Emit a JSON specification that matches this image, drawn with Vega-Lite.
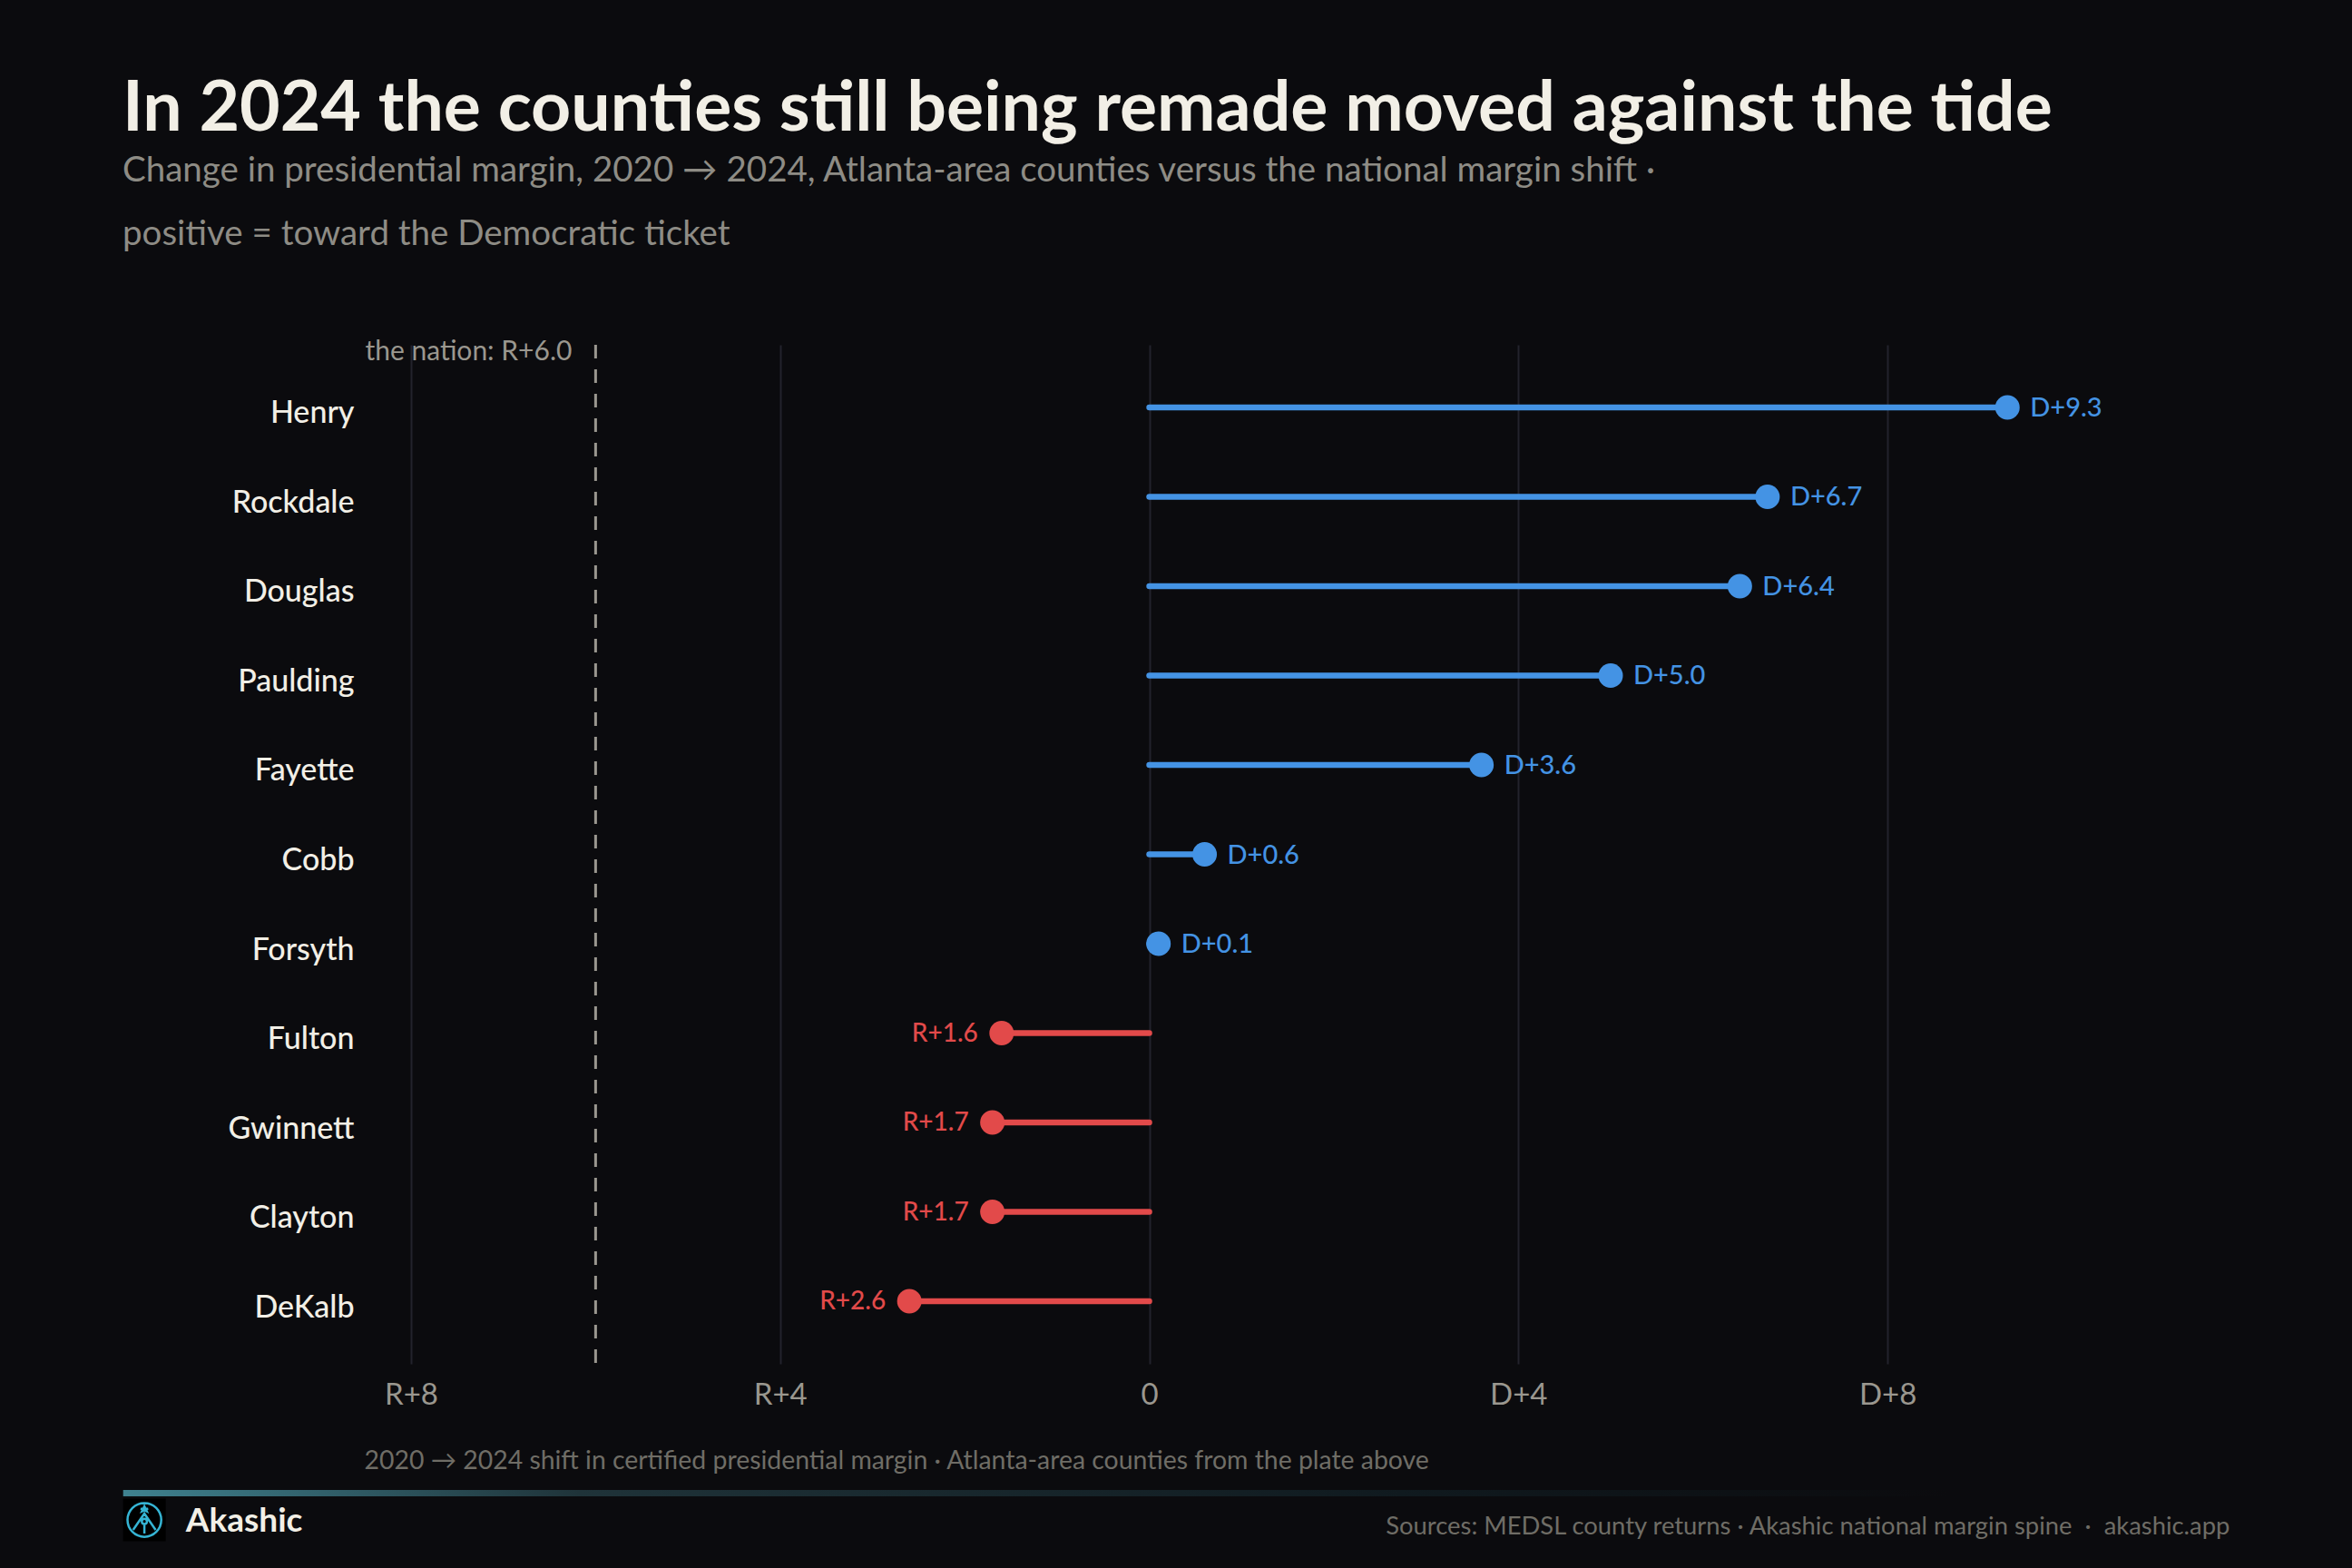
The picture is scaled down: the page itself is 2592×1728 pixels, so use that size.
{
"$schema":"https://vega.github.io/schema/vega-lite/v6.json",
"autosize":{"type":"none"},
"padding":{"left":453,"top":380,"right":156,"bottom":225},
"width":1983,"height":1123,
"background":"#0b0b0e",
"config":{"font":"Lato","view":{"stroke":null}},
"title":{"text":"In 2024 the counties still being remade moved against the tide","subtitle":["Change in presidential margin, 2020 → 2024, Atlanta-area counties versus the national margin shift ·","positive = toward the Democratic ticket"],"anchor":"start","frame":"group","dx":-318,"offset":95,"font":"Lato","fontSize":77,"fontWeight":700,"color":"#f2efe6","subtitleFont":"Lato","subtitleFontSize":38.5,"subtitleColor":"#8e8c85","subtitlePadding":10,"subtitleLineHeight":70},
"datasets":{"counties":[
{"county":"Henry","base":0,"shift":9.3,"party":"D","label":"D+9.3"},
{"county":"Rockdale","base":0,"shift":6.7,"party":"D","label":"D+6.7"},
{"county":"Douglas","base":0,"shift":6.4,"party":"D","label":"D+6.4"},
{"county":"Paulding","base":0,"shift":5.0,"party":"D","label":"D+5.0"},
{"county":"Fayette","base":0,"shift":3.6,"party":"D","label":"D+3.6"},
{"county":"Cobb","base":0,"shift":0.6,"party":"D","label":"D+0.6"},
{"county":"Forsyth","base":0,"shift":0.1,"party":"D","label":"D+0.1"},
{"county":"Fulton","base":0,"shift":-1.6,"party":"R","label":"R+1.6"},
{"county":"Gwinnett","base":0,"shift":-1.7,"party":"R","label":"R+1.7"},
{"county":"Clayton","base":0,"shift":-1.7,"party":"R","label":"R+1.7"},
{"county":"DeKalb","base":0,"shift":-2.6,"party":"R","label":"R+2.6"}]},
"resolve":{"scale":{"y":"independent"}},
"layer":[
{"data":{"name":"counties"},"mark":{"type":"point","opacity":0,"size":1},
 "encoding":{
  "x":{"field":"shift","type":"quantitative","scale":{"domain":[-8,11.5],"nice":false,"zero":false},
   "axis":{"values":[-8,-4,0,4,8],"labelExpr":"datum.value<0?'R+'+abs(datum.value):datum.value>0?'D+'+datum.value:'0'","grid":true,"gridColor":"#23232c","gridWidth":2,"domain":false,"ticks":false,"labelFlush":false,"labelFont":"Lato","labelFontSize":33,"labelColor":"#9a978f","labelPadding":18,"title":"2020 → 2024 shift in certified presidential margin · Atlanta-area counties from the plate above","titleFont":"Lato","titleFontSize":28.4,"titleFontWeight":400,"titleColor":"#6f6d66","titleAnchor":"start","titleAlign":"left","titleX":-52,"titleY":93}},
  "y":{"field":"county","type":"nominal","sort":null,"scale":{"type":"point","padding":0.7},
   "axis":{"orient":"left","domain":false,"ticks":false,"grid":false,"title":null,"labelFont":"Lato","labelFontSize":34,"labelFontWeight":500,"labelColor":"#f2efe6","labelPadding":63,"labelOffset":7}}}},
{"data":{"values":[{"nation":-6}]},"mark":{"type":"rule","stroke":"#9a978f","strokeWidth":3,"strokeDash":[15,12]},
 "encoding":{"x":{"field":"nation","type":"quantitative"}}},
{"data":{"values":[{"note":"the nation: R+6.0"}]},"mark":{"type":"text","align":"right","baseline":"middle","dx":-26,"fontSize":30,"color":"#9a978f"},
 "encoding":{"x":{"datum":-6,"type":"quantitative"},"y":{"datum":0.9925,"type":"quantitative","scale":{"domain":[0,1]},"axis":null},"text":{"field":"note"}}},
{"data":{"name":"counties"},"mark":{"type":"rule","strokeWidth":6.5,"strokeCap":"round"},
 "encoding":{"x":{"field":"base","type":"quantitative"},"x2":{"field":"shift"},
  "y":{"field":"county","type":"nominal","sort":null,"scale":{"type":"point","padding":0.7},"axis":null},
  "color":{"field":"party","type":"nominal","scale":{"domain":["D","R"],"range":["#4493e4","#e24a4a"]},"legend":null}}},
{"data":{"name":"counties"},"mark":{"type":"point","filled":true,"shape":"circle","size":729,"opacity":1},
 "encoding":{"x":{"field":"shift","type":"quantitative"},
  "y":{"field":"county","type":"nominal","sort":null,"scale":{"type":"point","padding":0.7},"axis":null},
  "color":{"field":"party","type":"nominal","legend":null}}},
{"data":{"name":"counties"},"transform":[{"filter":"datum.party==='D'"}],"mark":{"type":"text","align":"left","baseline":"middle","dx":25,"dy":1,"fontSize":29,"fontWeight":500},
 "encoding":{"x":{"field":"shift","type":"quantitative"},
  "y":{"field":"county","type":"nominal","scale":{"type":"point","padding":0.7,"domain":["Henry","Rockdale","Douglas","Paulding","Fayette","Cobb","Forsyth","Fulton","Gwinnett","Clayton","DeKalb"]},"axis":null},
  "color":{"field":"party","type":"nominal","legend":null},"text":{"field":"label"}}},
{"data":{"name":"counties"},"transform":[{"filter":"datum.party==='R'"}],"mark":{"type":"text","align":"right","baseline":"middle","dx":-26,"dy":1,"fontSize":28,"fontWeight":500},
 "encoding":{"x":{"field":"shift","type":"quantitative"},
  "y":{"field":"county","type":"nominal","scale":{"type":"point","padding":0.7,"domain":["Henry","Rockdale","Douglas","Paulding","Fayette","Cobb","Forsyth","Fulton","Gwinnett","Clayton","DeKalb"]},"axis":null},
  "color":{"field":"party","type":"nominal","legend":null},"text":{"field":"label"}}},
{"data":{"values":[{"band":"footer rule"}]},"mark":{"type":"rect","color":{"gradient":"linear","x1":0,"x2":1,"y1":0,"y2":0,"stops":[{"offset":0,"color":"#3f8290"},{"offset":0.25,"color":"#1f3339"},{"offset":0.7,"color":"#101a1f"},{"offset":1,"color":"#0b0b0e"}]}},
 "encoding":{"x":{"datum":-11.12,"type":"quantitative","scale":{"domain":[-8,11.5],"nice":false,"zero":false}},"x2":{"datum":8.66},
  "y":{"datum":-0.1238,"type":"quantitative","scale":{"domain":[0,1]},"axis":null},"y2":{"datum":-0.13}}},
{"data":{"values":[{"logo":"plate"}]},"mark":{"type":"point","filled":true,"shape":"square","size":2209,"color":"#000000","opacity":1},
 "encoding":{"x":{"datum":-10.89,"type":"quantitative"},"y":{"datum":-0.1532,"type":"quantitative","scale":{"domain":[0,1]},"axis":null}}},
{"data":{"values":[{"logo":"ring"}]},"mark":{"type":"point","filled":false,"shape":"M-0.93,0A0.93,0.93,0,1,1,0.93,0A0.93,0.93,0,1,1,-0.93,0ZM-0.62,0.55L0,-0.35L0.62,0.55M0,-0.75L0.13,-0.48L-0.2,-0.62L0.2,-0.62L-0.13,-0.48ZM0,0.2L0,0.75M-0.14,0.08A0.14,0.14,0,1,1,0.14,0.08A0.14,0.14,0,1,1,-0.14,0.08Z","size":1600,"color":"#35b4d4","strokeWidth":2.5,"opacity":1},
 "encoding":{"x":{"datum":-10.89,"type":"quantitative"},"y":{"datum":-0.1532,"type":"quantitative","scale":{"domain":[0,1]},"axis":null}}},
{"data":{"values":[{"brand":"Akashic"}]},"mark":{"type":"text","align":"left","baseline":"middle","fontSize":37,"fontWeight":700,"color":"#f2efe6"},
 "encoding":{"x":{"datum":-10.44,"type":"quantitative"},"y":{"datum":-0.155,"type":"quantitative","scale":{"domain":[0,1]},"axis":null},"text":{"field":"brand"}}},
{"data":{"values":[{"source":"Sources: MEDSL county returns · Akashic national margin spine\u00a0\u00a0·\u00a0\u00a0akashic.app"}]},"mark":{"type":"text","align":"right","baseline":"middle","fontSize":27.4,"color":"#6f6d66"},
 "encoding":{"x":{"datum":11.71,"type":"quantitative"},"y":{"datum":-0.16,"type":"quantitative","scale":{"domain":[0,1]},"axis":null},"text":{"field":"source"}}}
]
}
